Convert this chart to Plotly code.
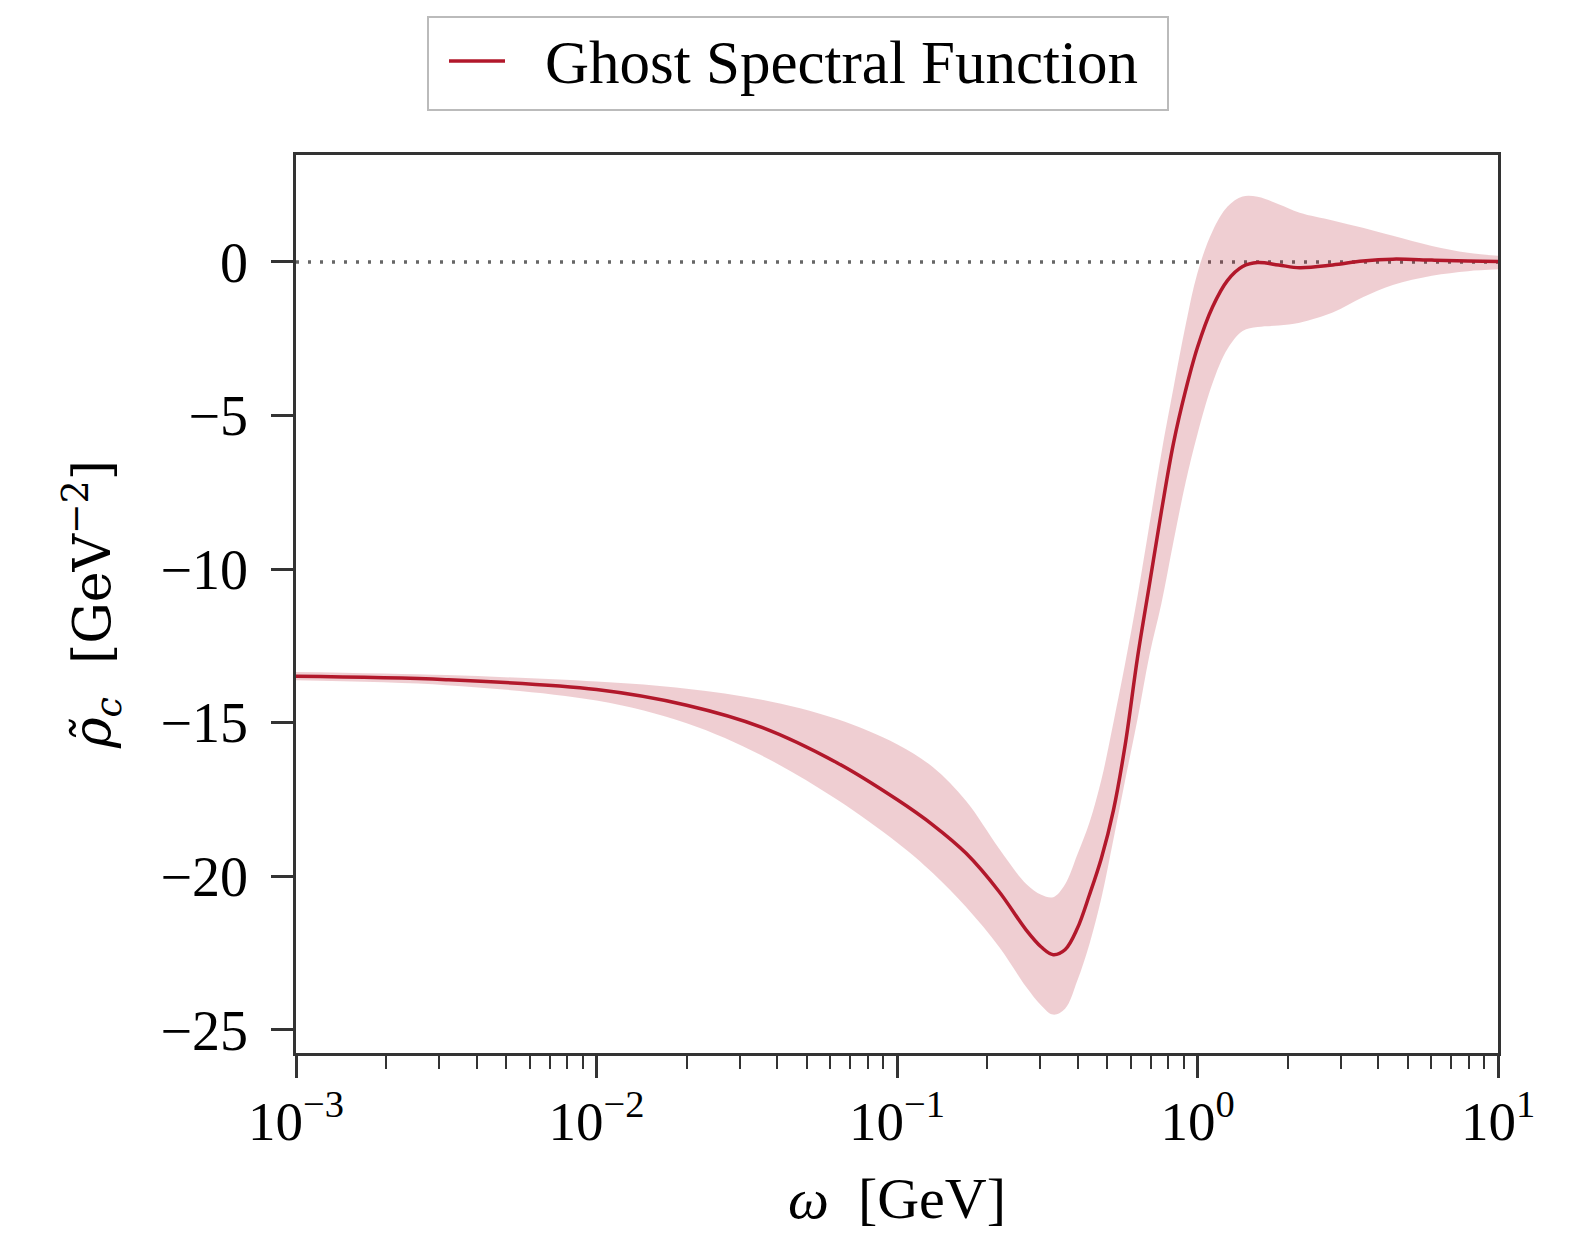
import plotly.graph_objects as go

# omega in GeV
omega = [0.001, 0.00316, 0.01, 0.01995, 0.0355, 0.0631, 0.1, 0.1318, 0.1698, 0.2188, 0.2692,
         0.302, 0.331, 0.363, 0.398, 0.437, 0.479, 0.525, 0.575, 0.631, 0.692, 0.759, 0.832,
         0.912, 1.0, 1.122, 1.259, 1.413, 1.585, 1.862, 2.188, 2.818, 3.548, 4.467, 6.026,
         7.943, 10.0]

rho_central = [-13.49, -13.60, -13.92, -14.43, -15.15, -16.3, -17.5, -18.33, -19.25, -20.5, -21.75,
               -22.3, -22.55, -22.38, -21.7, -20.6, -19.4, -17.85, -15.7, -12.9, -10.5, -8.1, -5.9,
               -4.2, -2.78, -1.47, -0.6, -0.15, -0.02, -0.1, -0.19, -0.1, 0.03, 0.09, 0.06,
               0.03, 0.01]

rho_upper = [-13.35, -13.45, -13.66, -13.89, -14.25, -14.88, -15.7, -16.45, -17.55, -19.1, -20.25,
             -20.6, -20.68, -20.25, -19.3, -18.25, -16.85, -15.0, -13.05, -10.9, -8.55, -6.2, -4.1,
             -2.08, -0.35, 1.0, 1.8, 2.13, 2.12, 1.88, 1.6, 1.35, 1.11, 0.85, 0.52,
             0.3, 0.2]

rho_lower = [-13.62, -13.78, -14.28, -15.02, -16.07, -17.5, -18.9, -19.9, -21.0, -22.3, -23.6,
             -24.2, -24.5, -24.3, -23.4, -22.2, -20.7, -18.8, -16.85, -14.9, -12.8, -11.1, -9.1,
             -7.2, -5.6, -3.95, -2.83, -2.25, -2.12, -2.07, -1.98, -1.65, -1.15, -0.75, -0.45,
             -0.3, -0.24]

x_major = [0.001, 0.01, 0.1, 1, 10]
x_major_text = ["10<sup>−3</sup>", "10<sup>−2</sup>", "10<sup>−1</sup>", "10<sup>0</sup>", "10<sup>1</sup>"]
x_minor = [m * d for d in [0.001, 0.01, 0.1, 1] for m in range(2, 10)]
y_major = [0, -5, -10, -15, -20, -25]
y_major_text = ["0", "−5", "−10", "−15", "−20", "−25"]
zero_x = [0.001, 10]
zero_y = [0, 0]
legend_label = "Ghost Spectral Function"

LINE = "#b2182b"
BAND = "rgba(178,24,43,0.21)"
FONT = "Liberation Serif"
W, H = 1582, 1237
L, R, T, B = 296, 84, 155, 184

fig = go.Figure()
fig.add_trace(go.Scatter(x=zero_x, y=zero_y, mode="lines",
                         line=dict(color="#666666", width=3.5, dash="3px,9px"),
                         showlegend=False, hoverinfo="skip"))
fig.add_trace(go.Scatter(x=omega, y=rho_upper, mode="lines", line=dict(width=0, shape="spline"),
                         showlegend=False, hoverinfo="skip"))
fig.add_trace(go.Scatter(x=omega, y=rho_lower, mode="lines", line=dict(width=0, shape="spline"),
                         fill="tonexty", fillcolor=BAND, showlegend=False, hoverinfo="skip"))
fig.add_trace(go.Scatter(x=omega, y=rho_central, mode="lines",
                         line=dict(color=LINE, width=3.5, shape="spline"),
                         name=legend_label, showlegend=False))

axis_common = dict(showline=True, linecolor="#333333", linewidth=2.5, mirror=True,
                   showgrid=False, zeroline=False, ticks="outside", ticklen=22,
                   tickwidth=2.5, tickcolor="#333333", automargin=False)

fig.update_xaxes(type="log", range=[-3, 1], tickvals=x_major, ticktext=x_major_text,
                 tickangle=0, ticklabelstandoff=-4,
                 tickfont=dict(family=FONT, size=55, color="black"),
                 minor=dict(tickvals=x_minor, ticks="outside", ticklen=13, tickwidth=2,
                            tickcolor="#333333", showgrid=False),
                 title=dict(text="<i>ω</i>  [GeV]", font=dict(family=FONT, size=58, color="black"),
                            standoff=27),
                 **axis_common)
fig.update_yaxes(range=[-25.75, 3.48], tickvals=y_major, ticktext=y_major_text,
                 ticklabelstandoff=12,
                 tickfont=dict(family=FONT, size=56, color="black"),
                 title=dict(text="<i>ρ̃</i><sub><i>c</i></sub>  [GeV<sup>−2</sup>]",
                            font=dict(family="DejaVu Serif", size=52, color="black"), standoff=34),
                 **axis_common)

# manual legend box (pixel positions converted to paper coords)
def px2paper_x(px):
    return (px - L) / (W - L - R)

def py2paper_y(py):
    return (H - B - py) / (H - T - B)

fig.add_shape(type="rect", xref="paper", yref="paper",
              x0=px2paper_x(428), x1=px2paper_x(1168), y0=py2paper_y(110), y1=py2paper_y(17),
              line=dict(color="#bbbbbb", width=2), fillcolor="white", layer="above")
fig.add_shape(type="line", xref="paper", yref="paper",
              x0=px2paper_x(449), x1=px2paper_x(505), y0=py2paper_y(61), y1=py2paper_y(61),
              line=dict(color=LINE, width=3.5), layer="above")
fig.add_annotation(text=legend_label, xref="paper", yref="paper",
                   x=px2paper_x(543), y=py2paper_y(62), xanchor="left", yanchor="middle",
                   showarrow=False, font=dict(family=FONT, size=61, color="black"))

fig.update_layout(
    width=W, height=H,
    margin=dict(l=L, r=R, t=T, b=B, pad=0, autoexpand=False),
    paper_bgcolor="white", plot_bgcolor="white",
    showlegend=False,
)

fig.write_html("out.html")
